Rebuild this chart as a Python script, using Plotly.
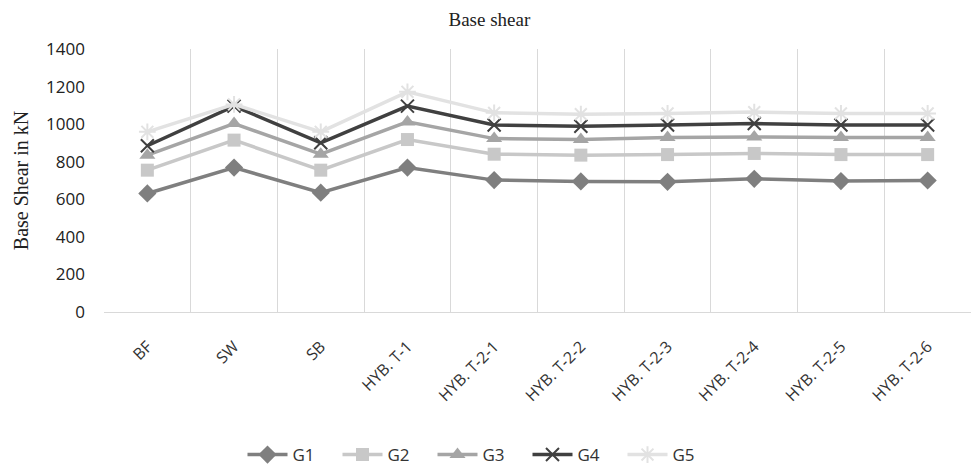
import plotly.graph_objects as go

categories = ["BF", "SW", "SB", "HYB. T-1", "HYB. T-2-1", "HYB. T-2-2",
              "HYB. T-2-3", "HYB. T-2-4", "HYB. T-2-5", "HYB. T-2-6"]
g1 = [631, 769, 635, 769, 702, 695, 693, 709, 697, 700]
g2 = [755, 915, 755, 918, 840, 835, 838, 844, 838, 838]
g3 = [835, 1003, 840, 1012, 923, 918, 929, 932, 929, 929]
g4 = [885, 1096, 901, 1096, 995, 989, 995, 1003, 995, 995]
g5 = [959, 1105, 959, 1172, 1060, 1053, 1057, 1064, 1057, 1057]
series_names = ["G1", "G2", "G3", "G4", "G5"]
y_ticks = [0, 200, 400, 600, 800, 1000, 1200, 1400]

series = [g1, g2, g3, g4, g5]
colors = ["#7f7f7f", "#c8c8c8", "#a5a5a5", "#404040", "#e2e2e2"]
symbols = ["diamond", "square", "triangle-up", "x-thin-open", "asterisk-open"]
sizes = [14, 13, 14, 13, 14]

fig = go.Figure()
for name, vals, c, s, sz in zip(series_names, series, colors, symbols, sizes):
    marker = dict(symbol=s, size=sz, color=c)
    if "open" in s:
        marker["line"] = dict(color=c, width=2)
    fig.add_trace(go.Scatter(x=categories, y=vals, name=name, mode="lines+markers",
                             line=dict(color=c, width=3.5), marker=marker))

fig.update_layout(
    width=973, height=465,
    margin=dict(l=104, r=2, t=49, b=153),
    paper_bgcolor="white", plot_bgcolor="white",
    title=dict(text="Base shear", x=0.503, xanchor="center", y=1 - 19 / 465, yanchor="middle",
               font=dict(family="Liberation Serif", size=19, color="#222")),
    legend=dict(orientation="h", xref="container", yref="container",
                x=480 / 973, xanchor="center", y=1 - 455 / 465, yanchor="middle",
                font=dict(family="Open Sans", size=17, color="#333"),
                itemwidth=40, entrywidth=40, tracegroupgap=0),
    showlegend=True,
)
fig.update_xaxes(type="category", range=[-0.5, 9.5], tickson="boundaries",
                 showgrid=True, gridcolor="#d9d9d9", gridwidth=1,
                 showline=True, linecolor="#d9d9d9", linewidth=1,
                 ticks="", tickangle=-45, ticklabelstandoff=18, automargin=False,
                 tickfont=dict(family="Open Sans", size=16, color="#333"))
fig.update_yaxes(range=[0, 1400], tickvals=y_ticks, showgrid=False, zeroline=False,
                 showline=False, ticks="", ticklabelstandoff=18, automargin=False,
                 tickfont=dict(family="Open Sans", size=17, color="#222"),
                 title=dict(text="Base Shear in kN", standoff=12,
                            font=dict(family="Liberation Serif", size=20, color="#222")))

fig.write_html("out.html")
